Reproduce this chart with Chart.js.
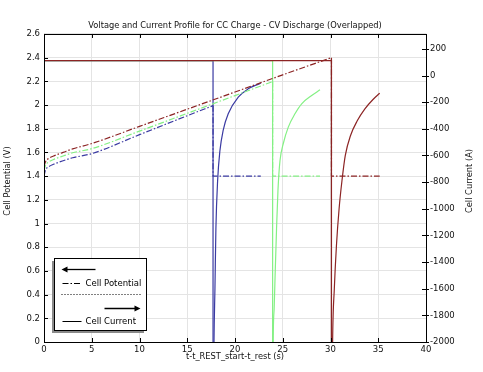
<!DOCTYPE html>
<html>
<head>
<meta charset="utf-8">
<script src="https://cdn.jsdelivr.net/npm/chart.js@4"></script>
<style>
  html, body { margin: 0; padding: 0; background: #fff; }
</style>
</head>
<body>
<canvas id="myChart" width="483" height="372"></canvas>
<script>
// tick labels
var timeTicks = [0, 5, 10, 15, 20, 25, 30, 35, 40];
var potentialTicks = [0, 0.2, 0.4, 0.6, 0.8, 1, 1.2, 1.4, 1.6, 1.8, 2, 2.2, 2.4, 2.6];
var currentTicks = [-2000, -1800, -1600, -1400, -1200, -1000, -800, -600, -400, -200, 0, 200];

// CC charge current (A), same for all three runs
var chargeCurrent = 112;
// CV discharge hold potential (V)
var holdPotential = 1.4;

// run 1 (blue): charge 0 - 17.7 s
var blueChargeT = [0, 0.15, 0.5, 1, 2, 3, 5, 10, 15, 17.7];
var blueChargeV = [1.40, 1.45, 1.48, 1.50, 1.53, 1.555, 1.59, 1.75, 1.91, 1.995];
var blueDisT = [17.7, 17.8, 17.9, 18.0, 18.18, 18.42, 18.76, 19.29, 20.34, 21.38, 22.2, 22.7];
var blueDisI = [-3000, -2000, -1600, -1150, -790, -565, -412, -287, -163, -100, -72, -58];

// run 2 (green): charge 0 - 23.94 s
var greenChargeT = [0, 0.15, 0.5, 1, 2, 3, 5, 10, 15, 20, 23.94];
var greenChargeV = [1.445, 1.49, 1.52, 1.54, 1.57, 1.597, 1.632, 1.78, 1.93, 2.08, 2.198];
var greenDisT = [23.94, 24.0, 24.1, 24.2, 24.35, 24.5, 24.71, 25.05, 25.58, 26.28, 26.98, 28.03, 28.9];
var greenDisI = [-3000, -2000, -1750, -1500, -1150, -860, -640, -512, -387, -287, -212, -150, -107];

// run 3 (brown): charge 0 - 30.1 s
var brownChargeT = [0, 0.15, 0.5, 1, 2, 3, 5, 10, 15, 20, 25, 30.1];
var brownChargeV = [1.48, 1.52, 1.55, 1.57, 1.60, 1.63, 1.675, 1.82, 1.965, 2.11, 2.255, 2.40];
var brownDisT = [30.1, 30.22, 30.4, 30.62, 30.9, 31.2, 31.55, 32.1, 32.8, 33.6, 34.45, 35.15];
var brownDisI = [-3000, -2000, -1600, -1280, -1000, -790, -600, -450, -340, -250, -180, -133];

var runs = [
  { color: '#8c2424', chargeT: brownChargeT, chargeV: brownChargeV, disT: brownDisT, disI: brownDisI },
  { color: '#84f084', chargeT: greenChargeT, chargeV: greenChargeV, disT: greenDisT, disI: greenDisI },
  { color: '#3a3aa2', chargeT: blueChargeT, chargeV: blueChargeV, disT: blueDisT, disI: blueDisI }
];

var dashDot = [6, 2, 1.5, 2];

function zip(xs, ys) {
  return xs.map(function (x, i) { return { x: x, y: ys[i] }; });
}

var datasets = [];
runs.forEach(function (run) {
  var tEnd = run.chargeT[run.chargeT.length - 1];
  var vEnd = run.chargeV[run.chargeV.length - 1];
  var tStop = run.disT[run.disT.length - 1];
  var base = { borderColor: run.color, borderWidth: 1.2, pointRadius: 0 };

  // current: CC step, then the CV discharge response
  datasets.push(Object.assign({}, base, {
    yAxisID: 'y1',
    data: [{ x: 0, y: chargeCurrent }, { x: tEnd, y: chargeCurrent }, { x: tEnd, y: run.disI[0] }]
  }));
  datasets.push(Object.assign({}, base, {
    yAxisID: 'y1',
    cubicInterpolationMode: 'monotone',
    data: zip(run.disT, run.disI)
  }));

  // potential: charge ramp, then the hold
  datasets.push(Object.assign({}, base, {
    yAxisID: 'y',
    borderDash: dashDot,
    cubicInterpolationMode: 'monotone',
    data: zip(run.chargeT, run.chargeV)
  }));
  datasets.push(Object.assign({}, base, {
    yAxisID: 'y',
    borderDash: dashDot,
    data: [{ x: tEnd, y: vEnd }, { x: tEnd, y: holdPotential }, { x: tStop, y: holdPotential }]
  }));
});

var fontFamily = '"DejaVu Sans", sans-serif';
Chart.defaults.font.family = fontFamily;
Chart.defaults.font.size = 8.5;
Chart.defaults.color = '#111';

function plainLabel(v) { return String(v); }

function drawArrow(ctx, x1, x2, y) {
  var dir = x2 > x1 ? 1 : -1;
  ctx.beginPath();
  ctx.moveTo(x1, y);
  ctx.lineTo(x2 - dir * 4, y);
  ctx.lineWidth = 1.3;
  ctx.stroke();
  ctx.beginPath();
  ctx.moveTo(x2, y);
  ctx.lineTo(x2 - dir * 6, y - 3);
  ctx.lineTo(x2 - dir * 6, y + 3);
  ctx.closePath();
  ctx.fill();
}

var frameTicks = {
  id: 'frameTicks',
  afterDraw: function (chart) {
    var ctx = chart.ctx, a = chart.chartArea;
    var sx = chart.scales.x, sy = chart.scales.y, sy1 = chart.scales.y1;
    ctx.save();
    ctx.strokeStyle = '#000';
    ctx.lineWidth = 1;
    ctx.strokeRect(Math.round(a.left) + 0.5, Math.round(a.top) + 0.5,
      Math.round(a.right - a.left), Math.round(a.bottom - a.top));
    ctx.beginPath();
    sx.ticks.forEach(function (t) {
      var px = Math.round(sx.getPixelForValue(t.value)) + 0.5;
      ctx.moveTo(px, a.top); ctx.lineTo(px, a.top + 4);
      ctx.moveTo(px, a.bottom); ctx.lineTo(px, a.bottom - 4);
    });
    sy.ticks.forEach(function (t) {
      var py = Math.round(sy.getPixelForValue(t.value)) + 0.5;
      ctx.moveTo(a.left, py); ctx.lineTo(a.left + 4, py);
    });
    sy1.ticks.forEach(function (t) {
      var py = Math.round(sy1.getPixelForValue(t.value)) + 0.5;
      ctx.moveTo(a.right - 4, py); ctx.lineTo(a.right + 3, py);
    });
    ctx.stroke();

    // axis titles (both read bottom to top)
    ctx.fillStyle = '#111';
    ctx.font = '8.3px ' + fontFamily;
    ctx.textAlign = 'center';
    ctx.textBaseline = 'middle';
    var midY = 181;
    ctx.save();
    ctx.translate(8, midY);
    ctx.rotate(-Math.PI / 2);
    ctx.fillText('Cell Potential (V)', 0, 0);
    ctx.restore();
    ctx.save();
    ctx.translate(470, midY);
    ctx.rotate(-Math.PI / 2);
    ctx.fillText('Cell Current (A)', 0, 0);
    ctx.restore();
    ctx.restore();
  }
};

var legendBox = {
  id: 'legendBox',
  afterDraw: function (chart) {
    var ctx = chart.ctx, a = chart.chartArea;
    var x = Math.round(a.left) + 10.5, y = Math.round(a.bottom) - 83.5, w = 92, h = 72;
    ctx.save();
    ctx.fillStyle = '#8a8a8a';
    ctx.fillRect(x - 2.5, y + 2.5, w, h);
    ctx.fillStyle = '#fff';
    ctx.fillRect(x, y, w, h);
    ctx.strokeStyle = '#000';
    ctx.lineWidth = 1;
    ctx.strokeRect(x, y, w, h);

    ctx.fillStyle = '#000';
    drawArrow(ctx, x + 41, x + 7, y + 11);

    ctx.lineWidth = 1;
    ctx.beginPath();
    ctx.setLineDash(dashDot);
    ctx.moveTo(x + 8, y + 25); ctx.lineTo(x + 27, y + 25);
    ctx.stroke();

    ctx.beginPath();
    ctx.setLineDash([1, 2]);
    ctx.moveTo(x + 7, y + 36); ctx.lineTo(x + 86, y + 36);
    ctx.stroke();
    ctx.setLineDash([]);

    drawArrow(ctx, x + 50, x + 86, y + 50);

    ctx.lineWidth = 1;
    ctx.beginPath();
    ctx.moveTo(x + 8, y + 63); ctx.lineTo(x + 27, y + 63);
    ctx.stroke();

    ctx.font = '8.5px ' + fontFamily;
    ctx.textAlign = 'left';
    ctx.textBaseline = 'middle';
    ctx.fillText('Cell Potential', x + 31, y + 25);
    ctx.fillText('Cell Current', x + 31, y + 63);
    ctx.restore();
  }
};

var gridColor = '#e4e4e4';

new Chart(document.getElementById('myChart'), {
  type: 'line',
  data: { datasets: datasets },
  plugins: [frameTicks, legendBox],
  options: {
    responsive: false,
    animation: false,
    layout: { padding: 0 },
    plugins: {
      legend: { display: false },
      tooltip: { enabled: false },
      title: {
        display: true,
        fullSize: false,
        text: 'Voltage and Current Profile for CC Charge - CV Discharge (Overlapped)',
        color: '#111',
        font: { size: 8.3, weight: 'normal' },
        padding: { top: 21, bottom: 3 }
      }
    },
    scales: {
      x: {
        type: 'linear',
        min: 0,
        max: 40,
        afterBuildTicks: function (s) { s.ticks = timeTicks.map(function (v) { return { value: v }; }); },
        ticks: { padding: 3, maxRotation: 0, callback: plainLabel },
        grid: { color: gridColor, drawTicks: false },
        border: { display: false },
        title: { display: true, text: 't-t_REST_start-t_rest (s)', color: '#111', font: { size: 8.3 }, padding: { top: 0, bottom: 10 } },
        afterFit: function (s) { s.height = 30; }
      },
      y: {
        position: 'left',
        min: 0,
        max: 2.6,
        afterBuildTicks: function (s) { s.ticks = potentialTicks.map(function (v) { return { value: v }; }); },
        ticks: { padding: 4, callback: plainLabel },
        grid: { color: gridColor, drawTicks: false },
        border: { display: false },
        afterFit: function (s) { s.width = 44; }
      },
      y1: {
        position: 'right',
        min: -2000,
        max: 312,
        afterBuildTicks: function (s) { s.ticks = currentTicks.map(function (v) { return { value: v }; }); },
        ticks: { padding: 4, callback: plainLabel },
        grid: { display: false, drawTicks: false },
        border: { display: false },
        afterFit: function (s) { s.width = 57; }
      }
    }
  }
});
</script>
</body>
</html>
